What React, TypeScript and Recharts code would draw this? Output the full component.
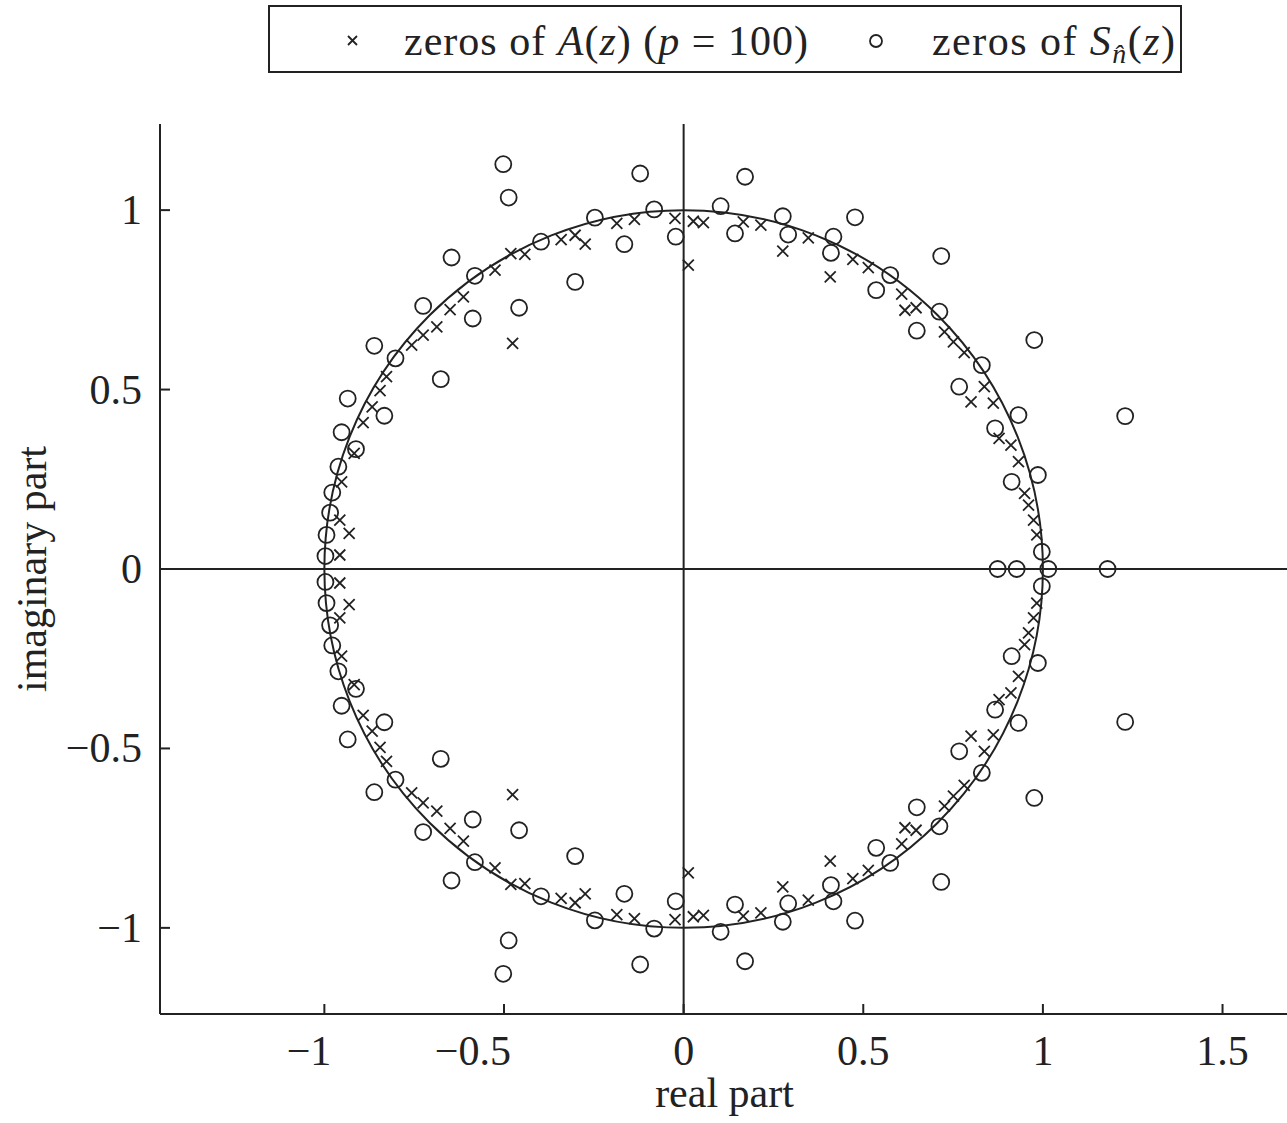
import React from "react"
import { ReferenceArea, ReferenceLine, Scatter, ScatterChart, XAxis, YAxis } from "recharts"

const INK = "#222222"
const FONT = '"Liberation Serif", "Times New Roman", serif'

const xTicks = [-1, -0.5, 0, 0.5, 1, 1.5]
const yTicks = [-1, -0.5, 0, 0.5, 1]

// zeros of A(z), upper half plane
const crossesUpper: [number, number][] = [
  [-0.957, 0.039], [-0.931, 0.099], [-0.957, 0.136], [-0.952, 0.243], [-0.917, 0.322],
  [-0.892, 0.408], [-0.867, 0.452], [-0.845, 0.497], [-0.827, 0.536], [-0.757, 0.624],
  [-0.725, 0.652], [-0.687, 0.675], [-0.65, 0.723], [-0.613, 0.758], [-0.525, 0.833],
  [-0.481, 0.879], [-0.442, 0.877], [-0.476, 0.629], [-0.341, 0.918], [-0.302, 0.93],
  [-0.274, 0.905], [-0.186, 0.963], [-0.137, 0.974], [-0.024, 0.977], [0.013, 0.847],
  [0.027, 0.969], [0.055, 0.965], [0.166, 0.967], [0.215, 0.958], [0.276, 0.886],
  [0.347, 0.923], [0.408, 0.814], [0.471, 0.863], [0.514, 0.84], [0.607, 0.766],
  [0.616, 0.721], [0.647, 0.728], [0.726, 0.661], [0.751, 0.633], [0.781, 0.603],
  [0.837, 0.508], [0.8, 0.466], [0.862, 0.462], [0.878, 0.364], [0.911, 0.345],
  [0.932, 0.299], [0.949, 0.211], [0.96, 0.178], [0.974, 0.136], [0.983, 0.095],
]

// zeros of A(z), lower half plane
const crossesLower: [number, number][] = [
  [-0.957, -0.039], [-0.931, -0.099], [-0.957, -0.136], [-0.952, -0.243], [-0.917, -0.322],
  [-0.892, -0.408], [-0.867, -0.452], [-0.845, -0.497], [-0.827, -0.536], [-0.757, -0.624],
  [-0.725, -0.652], [-0.687, -0.675], [-0.65, -0.723], [-0.613, -0.758], [-0.525, -0.833],
  [-0.481, -0.879], [-0.442, -0.877], [-0.476, -0.629], [-0.341, -0.918], [-0.302, -0.93],
  [-0.274, -0.905], [-0.186, -0.963], [-0.137, -0.974], [-0.024, -0.977], [0.013, -0.847],
  [0.027, -0.969], [0.055, -0.965], [0.166, -0.967], [0.215, -0.958], [0.276, -0.886],
  [0.347, -0.923], [0.408, -0.814], [0.471, -0.863], [0.514, -0.84], [0.607, -0.766],
  [0.616, -0.721], [0.647, -0.728], [0.726, -0.661], [0.751, -0.633], [0.781, -0.603],
  [0.837, -0.508], [0.8, -0.466], [0.862, -0.462], [0.878, -0.364], [0.911, -0.345],
  [0.932, -0.299], [0.949, -0.211], [0.96, -0.178], [0.974, -0.136], [0.983, -0.095],
]

// zeros of S_n(z), upper half plane
const circlesUpper: [number, number][] = [
  [-0.502, 1.128], [-0.487, 1.035], [-0.646, 0.868], [-0.581, 0.817], [-0.397, 0.912],
  [-0.302, 0.8], [-0.725, 0.733], [-0.587, 0.698], [-0.458, 0.728], [-0.861, 0.622],
  [-0.802, 0.587], [-0.676, 0.529], [-0.935, 0.475], [-0.833, 0.427], [-0.952, 0.381],
  [-0.912, 0.334], [-0.961, 0.285], [-0.978, 0.213], [-0.984, 0.157], [-0.994, 0.095],
  [-0.997, 0.036], [-0.121, 1.102], [-0.247, 0.979], [-0.082, 1.002], [-0.165, 0.905],
  [-0.022, 0.926], [0.171, 1.093], [0.103, 1.011], [0.143, 0.935], [0.276, 0.983],
  [0.291, 0.932], [0.417, 0.926], [0.41, 0.881], [0.477, 0.98], [0.717, 0.872],
  [0.575, 0.819], [0.536, 0.777], [0.712, 0.717], [0.649, 0.664], [0.976, 0.638],
  [0.83, 0.568], [0.767, 0.508], [0.932, 0.429], [1.229, 0.426], [0.867, 0.392],
  [0.986, 0.262], [0.913, 0.243], [0.997, 0.048],
]

// zeros of S_n(z) on the real axis
const circlesReal: [number, number][] = [
  [0.874, 0], [0.927, 0], [1.015, 0], [1.18, 0],
]

// zeros of S_n(z), lower half plane
const circlesLower: [number, number][] = [
  [-0.502, -1.128], [-0.487, -1.035], [-0.646, -0.868], [-0.581, -0.817], [-0.397, -0.912],
  [-0.302, -0.8], [-0.725, -0.733], [-0.587, -0.698], [-0.458, -0.728], [-0.861, -0.622],
  [-0.802, -0.587], [-0.676, -0.529], [-0.935, -0.475], [-0.833, -0.427], [-0.952, -0.381],
  [-0.912, -0.334], [-0.961, -0.285], [-0.978, -0.213], [-0.984, -0.157], [-0.994, -0.095],
  [-0.997, -0.036], [-0.121, -1.102], [-0.247, -0.979], [-0.082, -1.002], [-0.165, -0.905],
  [-0.022, -0.926], [0.171, -1.093], [0.103, -1.011], [0.143, -0.935], [0.276, -0.983],
  [0.291, -0.932], [0.417, -0.926], [0.41, -0.881], [0.477, -0.98], [0.717, -0.872],
  [0.575, -0.819], [0.536, -0.777], [0.712, -0.717], [0.649, -0.664], [0.976, -0.638],
  [0.83, -0.568], [0.767, -0.508], [0.932, -0.429], [1.229, -0.426], [0.867, -0.392],
  [0.986, -0.262], [0.913, -0.243], [0.997, -0.048],
]

const toPoints = (pairs: [number, number][]) => pairs.map(([re, im]) => ({ re, im }))

const crossData = toPoints([...crossesUpper, ...crossesLower])
const circleData = toPoints([...circlesUpper, ...circlesReal, ...circlesLower])

const fmt = (v: number) => (v < 0 ? "\u2212" + String(-v) : String(v))

function Cross(props: any) {
  const { cx, cy } = props
  const s = 5.5
  return (
    <path
      d={`M${cx - s},${cy - s}L${cx + s},${cy + s}M${cx + s},${cy - s}L${cx - s},${cy + s}`}
      stroke={INK}
      strokeWidth={1.8}
      fill="none"
    />
  )
}

function Ring(props: any) {
  const { cx, cy } = props
  return <circle cx={cx} cy={cy} r={8} stroke={INK} strokeWidth={1.8} fill="none" />
}

function BottomTick(props: any) {
  const { x, y, payload } = props
  // negative labels sit with their digits ending just right of the tick
  const neg = payload.value < 0
  return (
    <g>
      <line x1={x} y1={y} x2={x} y2={y - 10} stroke={INK} strokeWidth={2} />
      <text
        x={neg ? x + 7 : x}
        y={y + 51}
        textAnchor={neg ? "end" : "middle"}
        fontSize={42}
        fontFamily={FONT}
        fill={INK}
      >
        {fmt(payload.value)}
      </text>
    </g>
  )
}

function LeftTick(props: any) {
  const { x, y, payload } = props
  return (
    <g>
      <line x1={x} y1={y} x2={x + 10} y2={y} stroke={INK} strokeWidth={2} />
      <text x={x - 18} y={y + 14} textAnchor="end" fontSize={42} fontFamily={FONT} fill={INK}>
        {fmt(payload.value)}
      </text>
    </g>
  )
}

function TopTick(props: any) {
  const { x, y } = props
  return <line x1={x} y1={y} x2={x} y2={y + 10} stroke={INK} strokeWidth={2} />
}

function RightTick(props: any) {
  const { x, y } = props
  return <line x1={x} y1={y} x2={x - 10} y2={y} stroke={INK} strokeWidth={2} />
}

function UnitCircle(props: any) {
  const { x, y, width, height } = props
  return (
    <ellipse
      cx={x + width / 2}
      cy={y + height / 2}
      rx={width / 2}
      ry={height / 2}
      fill="none"
      stroke={INK}
      strokeWidth={2}
    />
  )
}

function Legend() {
  return (
    <svg width={914} height={68} style={{ position: "absolute", left: 268, top: 5 }}>
      <rect x={1} y={1} width={912} height={66} fill="#fff" stroke={INK} strokeWidth={2} />
      <path d="M80,31L89,40M89,31L80,40" stroke={INK} strokeWidth={1.8} />
      <text
        x={136}
        y={50}
        fontSize={42}
        fontFamily={FONT}
        fill={INK}
        textLength={404}
        lengthAdjust="spacing"
      >
        zeros of <tspan fontStyle="italic">A</tspan>(<tspan fontStyle="italic">z</tspan>) (
        <tspan fontStyle="italic">p</tspan> = 100)
      </text>
      <circle cx={608} cy={36} r={6} stroke={INK} strokeWidth={1.8} fill="none" />
      <text
        x={664}
        y={50}
        fontSize={42}
        fontFamily={FONT}
        fill={INK}
        textLength={243}
        lengthAdjust="spacing"
      >
        zeros of <tspan fontStyle="italic">S</tspan>
        <tspan fontStyle="italic" fontSize={28} dy={8}>
          n&#770;
        </tspan>
        <tspan dy={-8}>(</tspan>
        <tspan fontStyle="italic">z</tspan>)
      </text>
    </svg>
  )
}

export default function App() {
  return (
    <div
      style={{
        position: "absolute",
        left: 0,
        top: 0,
        width: 1287,
        height: 1123,
        overflow: "hidden",
        background: "#fff",
      }}
    >
      <ScatterChart width={1300} height={1123} margin={{ top: 124, right: 11, bottom: 0, left: 0 }}>
        <XAxis
          type="number"
          dataKey="re"
          domain={[-1.4575, 1.685]}
          allowDataOverflow
          ticks={xTicks}
          height={109}
          tickSize={0}
          tickMargin={0}
          tickLine={false}
          tick={<BottomTick />}
          axisLine={{ stroke: INK, strokeWidth: 2 }}
          label={{
            content: ({ viewBox }: any) => (
              <text
                x={viewBox.x + viewBox.width / 2}
                y={viewBox.y + 93}
                textAnchor="middle"
                fontSize={42}
                fontFamily={FONT}
                fill={INK}
              >
                real part
              </text>
            ),
          }}
        />
        <XAxis
          xAxisId="top"
          orientation="top"
          type="number"
          domain={[-1.4575, 1.685]}
          allowDataOverflow
          ticks={xTicks}
          height={0}
          tickSize={0}
          tickMargin={0}
          tickLine={false}
          tick={<TopTick />}
          axisLine={{ stroke: INK, strokeWidth: 2 }}
        />
        <YAxis
          type="number"
          dataKey="im"
          domain={[-1.24, 1.24]}
          allowDataOverflow
          ticks={yTicks}
          width={160}
          tickSize={0}
          tickMargin={0}
          tickLine={false}
          tick={<LeftTick />}
          axisLine={{ stroke: INK, strokeWidth: 2 }}
          label={{
            content: ({ viewBox }: any) => (
              <text
                x={46}
                y={viewBox.y + viewBox.height / 2}
                transform={`rotate(-90 46 ${viewBox.y + viewBox.height / 2})`}
                textAnchor="middle"
                fontSize={42}
                fontFamily={FONT}
                fill={INK}
              >
                imaginary part
              </text>
            ),
          }}
        />
        <YAxis
          yAxisId="right"
          orientation="right"
          type="number"
          domain={[-1.24, 1.24]}
          allowDataOverflow
          ticks={yTicks}
          width={0}
          tickSize={0}
          tickMargin={0}
          tickLine={false}
          tick={<RightTick />}
          axisLine={{ stroke: INK, strokeWidth: 2 }}
        />
        <ReferenceLine x={0} stroke={INK} strokeWidth={2} />
        <ReferenceLine y={0} stroke={INK} strokeWidth={2} />
        <ReferenceArea x1={-1} x2={1} y1={-1} y2={1} shape={UnitCircle} />
        <Scatter name="zeros of A(z)" data={crossData} shape={<Cross />} isAnimationActive={false} />
        <Scatter name="zeros of S(z)" data={circleData} shape={<Ring />} isAnimationActive={false} />
      </ScatterChart>
      <Legend />
    </div>
  )
}
